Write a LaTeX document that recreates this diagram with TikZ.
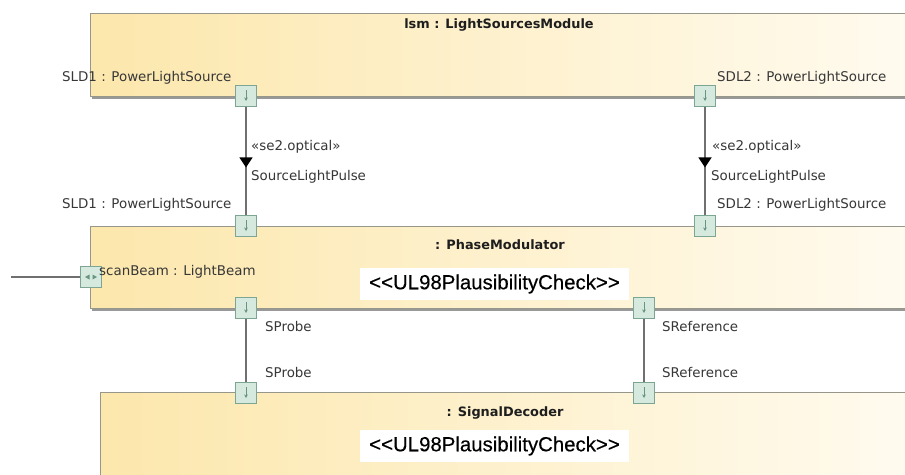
\documentclass[tikz,border=0pt]{standalone}
\usepackage{fontspec}
\setmainfont{DejaVu Sans}
\newfontfamily\stereofont{Liberation Sans}[FakeBold=0.4]
\usetikzlibrary{arrows.meta,decorations.markings,shadows}

\definecolor{boxleft}{RGB}{252,231,172}
\definecolor{boxright}{RGB}{255,251,240}
\definecolor{boxline}{RGB}{150,150,138}
\definecolor{portfill}{RGB}{214,233,222}
\definecolor{portline}{RGB}{125,165,148}
\definecolor{portglyph}{RGB}{105,148,132}
\definecolor{connline}{RGB}{112,112,112}
\definecolor{labeltext}{RGB}{55,55,55}
\definecolor{titletext}{RGB}{30,30,30}

\tikzset{
  partbox/.style={draw=boxline, line width=0.8pt, anchor=north west,
    left color=boxleft, right color=boxright,
    drop shadow={shadow xshift=1.2pt, shadow yshift=-2.6pt, fill=gray!80, opacity=1},
    inner sep=0pt},
  porthead/.style={draw=portline, fill=portfill, line width=0.8pt,
    minimum size=21pt, inner sep=0pt},
  port/.style={porthead, path picture={
    \draw[portglyph, line width=0.8pt, -{Stealth[length=3.5pt,width=3.5pt]}]
      ([yshift=6pt]path picture bounding box.center) --
      ([yshift=-5pt]path picture bounding box.center);}},
  bport/.style={porthead, path picture={
    \fill[portglyph] ([xshift=-6pt]path picture bounding box.center) -- ++(4.5pt,2.5pt) -- ++(0,-5pt) -- cycle;
    \fill[portglyph] ([xshift=6pt]path picture bounding box.center) -- ++(-4.5pt,2.5pt) -- ++(0,-5pt) -- cycle;}},
  conn/.style={draw=connline, line width=1.3pt},
  midarrow/.style={postaction={decorate}, decoration={markings,
    mark=at position #1 with {\arrow[black]{Triangle[length=10pt,width=13pt]}}}},
  lbl/.style={font=\fontsize{13.4}{16}\selectfont, text=labeltext, inner sep=0pt, anchor=west},
  ttl/.style={font=\fontsize{12.9}{15}\selectfont\bfseries, text=titletext, inner sep=0pt},
  stereo/.style={fill=white, font=\stereofont\fontsize{20.4}{24}\selectfont, text=black,
    minimum height=32pt, inner xsep=9pt, inner ysep=0pt, anchor=west},
}

\begin{document}
\begin{tikzpicture}[x=1pt,y=-1pt]
\useasboundingbox (0,0) rectangle (905,474);
\fill[white] (0,0) rectangle (905,474);
\begin{scope}
\clip (0,0) rectangle (905,474);

% the three parts
\node[partbox, minimum width=830pt, minimum height=83pt] (lsm) at (90,13) {};
\node[partbox, minimum width=830pt, minimum height=82pt] (pm) at (90,226) {};
\node[partbox, minimum width=820pt, minimum height=100pt] (sd) at (100,392) {};

% part titles
\node[ttl] (lsmtitle) at (499,25) {lsm : LightSourcesModule};
\node[ttl] (pmtitle) at (500,245) {: PhaseModulator};
\node[ttl] (sdtitle) at (505,413) {: SignalDecoder};

% stereotype labels
\node[stereo] (pmstereo) at (360,284) {<\kern0pt<UL98PlausibilityCheck>\kern0pt>};
\node[stereo] (sdstereo) at (360,446) {<\kern0pt<UL98PlausibilityCheck>\kern0pt>};

% external line to the scan beam port
\coordinate (scanend) at (11,277);
\draw[conn] (scanend) -- (80,277);

% ports
\node[port] (sld1a) at (246,96) {};
\node[port] (sdl2a) at (705,96) {};
\node[port] (sld1b) at (246,226) {};
\node[port] (sdl2b) at (705,226) {};
\node[port] (probea) at (246,308) {};
\node[port] (refa) at (644,308) {};
\node[port] (probeb) at (246,393) {};
\node[port] (refb) at (644,393) {};
\node[bport] (scan) at (91,277) {};

% connectors
\draw[conn, midarrow=0.56] (sld1a.south) -- (sld1b.north);
\draw[conn, midarrow=0.56] (sdl2a.south) -- (sdl2b.north);
\draw[conn] (probea.south) -- (probeb.north);
\draw[conn] (refa.south) -- (refb.north);

% port and connector labels
\node[lbl] (l1) at (62,78) {SLD1 : PowerLightSource};
\node[lbl] (l2) at (717,78) {SDL2 : PowerLightSource};
\node[lbl] (l3) at (251,147) {«se2.optical»};
\node[lbl] (l4) at (712,147) {«se2.optical»};
\node[lbl] (l5) at (251,177) {SourceLightPulse};
\node[lbl] (l6) at (711,177) {SourceLightPulse};
\node[lbl] (l7) at (62,205) {SLD1 : PowerLightSource};
\node[lbl] (l8) at (717,205) {SDL2 : PowerLightSource};
\node[lbl] (l9) at (99,272) {scanBeam : LightBeam};
\node[lbl] (l10) at (265,327) {SProbe};
\node[lbl] (l11) at (265,372) {SProbe};
\node[lbl] (l12) at (662,327) {SReference};
\node[lbl] (l13) at (662,372) {SReference};
\end{scope}
\end{tikzpicture}
\end{document}
